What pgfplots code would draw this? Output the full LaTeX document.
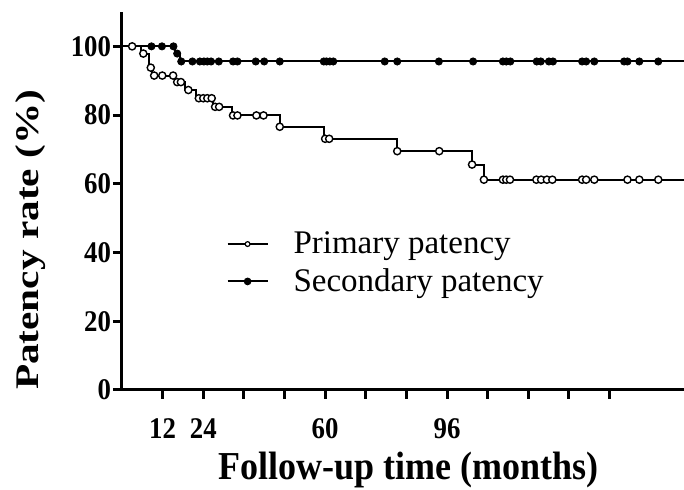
\documentclass[border=0pt]{standalone}
\usepackage{fontspec}
\setmainfont{Liberation Serif}
\usepackage{graphicx}
\usepackage{pgfplots}
\pgfplotsset{compat=1.18}
\newcommand\tks[1]{\scalebox{1}[1.12]{#1}}
\begin{document}
\begin{tikzpicture}
\useasboundingbox (-61pt,-50pt) rectangle (281pt,195pt);
\begin{axis}[
 at={(0,0)}, anchor=south west,
 scale only axis, width=281pt, height=189pt,
 xmin=0, xmax=166, ymin=0, ymax=110,
 axis x line=bottom, axis y line=left,
 axis line style={-, line width=1.5pt, black},
 xtick={12,24,...,144},
 xticklabels={\tks{12},\tks{24},{},{},\tks{60},{},{},\tks{96},{},{},{},{}},
 ytick={0,20,...,100},
 yticklabels={\tks{0},\tks{20},\tks{40},\tks{60},\tks{80},\tks{100}},
 tick align=outside, major tick length=4.5pt,
 tick style={line width=1.5pt, black},
 ticklabel style={font=\fontsize{13.4}{15}\selectfont\bfseries},
 xticklabel style={anchor=base, yshift=-19.5pt},
 yticklabel style={inner sep=0.8pt},
 xlabel={\scalebox{1}[1.1]{Follow-up time (months)}},
 ylabel={\scalebox{1.25}[1]{Patency rate (\%)}},
 every axis x label/.style={at={(axis description cs:0.509,0)}, anchor=base, yshift=-45pt, font=\fontsize{18}{20}\selectfont\bfseries},
 every axis y label/.style={at={(axis description cs:0,0.397)}, xshift=-45.5pt, rotate=90, anchor=center, font=\fontsize{16.5}{18}\selectfont\bfseries},
 legend style={draw=none, fill=none, at={(axis cs:30.8,46.2)}, anchor=north west, inner sep=0pt, row sep=6pt, column sep=12.5pt, font=\fontsize{16.5}{18}\selectfont, nodes={inner sep=0pt}},
 legend cell align=left,
]
\addplot[const plot, black, line width=1pt,
 legend image code/.code={\draw[black,line width=1pt] (0cm,0cm) -- (0.7cm,0cm); \draw[black,fill=white,line width=0.6pt] (0.35cm,0cm) circle (1.2pt);}]
 coordinates {(0,100) (5.5,97.9) (8.1,93.8) (9.0,91.5) (15.8,89.6) (18.6,87.3) (22.0,84.9) (27.0,82.4) (32.5,79.9) (46.6,76.6) (59.8,73.1) (81.1,69.5) (103.5,65.6) (106.9,61.2) (166,61.2)};
\addlegendentry{Primary patency}
\addplot[const plot, black, line width=1pt,
 legend image code/.code={\draw[black,line width=1pt] (0cm,0cm) -- (0.7cm,0cm); \fill[black] (0.35cm,0cm) circle (1.4pt);}]
 coordinates {(0,100) (15.8,97.9) (17.0,95.6) (166,95.6)};
\addlegendentry{Secondary patency}
\addplot[only marks, mark=*, mark size=1.8pt, mark options={fill=white, draw=black, line width=0.7pt}, forget plot]
 coordinates {(3.0,100) (6.3,97.9) (8.5,93.8) (9.5,91.5) (11.9,91.5) (15.1,91.5) (16.3,89.6) (17.4,89.6) (19.6,87.3) (22.7,84.9) (24.0,84.9) (25.2,84.9) (26.5,84.9) (27.5,82.4) (28.7,82.4) (32.8,79.9) (34.1,79.9) (39.7,79.9) (41.8,79.9) (46.6,76.6) (60.0,73.1) (61.2,73.1) (81.3,69.5) (93.7,69.5) (103.4,65.6) (106.9,61.2) (112.5,61.2) (113.5,61.2) (114.6,61.2) (122.4,61.2) (123.8,61.2) (125.5,61.2) (127.1,61.2) (135.9,61.2) (137.1,61.2) (139.5,61.2) (149.3,61.2) (152.8,61.2) (158.4,61.2)};
\addplot[only marks, mark=*, mark size=1.8pt, black, forget plot]
 coordinates {(8.7,100) (11.8,100) (15.2,100) (16.3,97.9) (17.5,95.6) (20.8,95.6) (23.0,95.6) (24.2,95.6) (25.2,95.6) (26.3,95.6) (28.6,95.6) (32.8,95.6) (34.1,95.6) (39.5,95.6) (42.0,95.6) (46.6,95.6) (59.6,95.6) (60.4,95.6) (61.4,95.6) (62.4,95.6) (77.6,95.6) (81.3,95.6) (93.6,95.6) (103.7,95.6) (112.5,95.6) (113.5,95.6) (114.7,95.6) (122.5,95.6) (123.7,95.6) (126.1,95.6) (127.3,95.6) (135.9,95.6) (137.1,95.6) (139.5,95.6) (148.3,95.6) (149.3,95.6) (152.8,95.6) (158.4,95.6)};
\end{axis}
\end{tikzpicture}
\end{document}
